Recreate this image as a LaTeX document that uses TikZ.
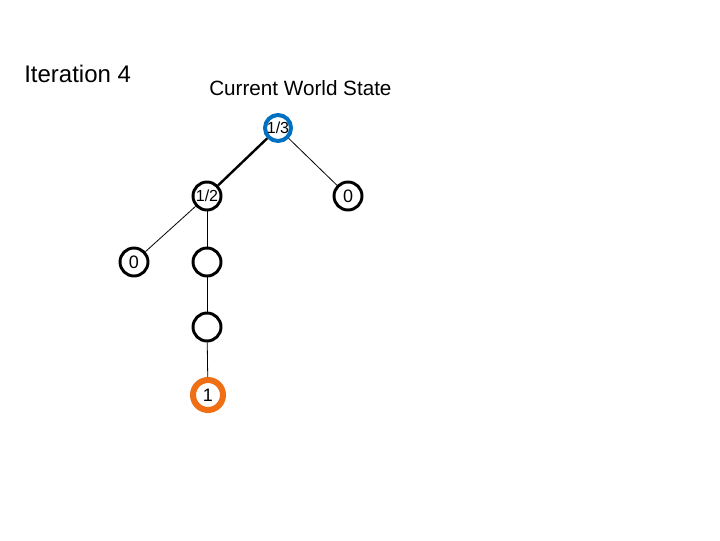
\documentclass[tikz,border=0pt]{standalone}
\usepackage{fontspec}
\setmainfont{Liberation Sans}
\definecolor{rootblue}{RGB}{0,112,192}
\definecolor{leaforange}{RGB}{240,110,20}
\begin{document}
\begin{tikzpicture}[x=0.75pt,y=-0.75pt,
  treenode/.style={circle,draw=black,line width=2.2pt,minimum size=21pt,inner sep=0pt,font=\fontsize{13.5}{14}\selectfont},
  rootnode/.style={circle,draw=rootblue,line width=3pt,minimum size=19.5pt,inner sep=0pt,font=\fontsize{12}{12}\selectfont},
  hitnode/.style={circle,draw=leaforange,line width=4.5pt,minimum size=22.5pt,inner sep=0pt,font=\fontsize{13.5}{14}\selectfont},
  thinedge/.style={draw=black,line width=0.6pt},
  thickedge/.style={draw=black,line width=1.8pt},
  title/.style={anchor=base west,inner sep=0pt}]
\useasboundingbox (0,0) rectangle (720,540);
\node[title,font=\fontsize{18}{20}\selectfont] (iter) at (24,82) {Iteration 4};
\node[title,font=\fontsize{15.5}{18}\selectfont] (cws) at (209,95) {Current World State};
\node[rootnode] (root) at (278,128) {1/3};
\node[treenode,font=\fontsize{12}{12}\selectfont] (half) at (207,196) {1/2};
\node[treenode] (rzero) at (348,196) {0};
\node[treenode] (lzero) at (134,262) {0};
\node[treenode] (eone) at (207,262) {};
\node[treenode] (etwo) at (207,327) {};
\node[hitnode] (one) at (208,395) {1};
\draw[thickedge] (root) -- (half);
\draw[thinedge] (root) -- (rzero);
\draw[thinedge] (half) -- (lzero);
\draw[thinedge] (half) -- (eone);
\draw[thinedge] (eone) -- (etwo);
\draw[thinedge] (etwo) -- (one);
\end{tikzpicture}
\end{document}
